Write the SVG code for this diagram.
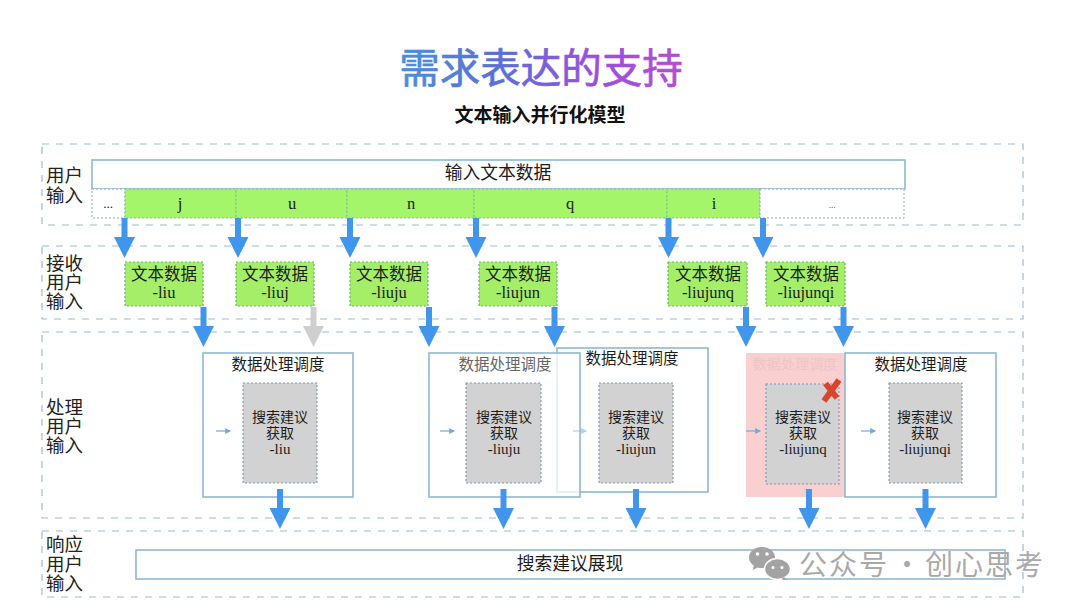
<svg xmlns="http://www.w3.org/2000/svg" width="1080" height="608" viewBox="0 0 1080 608">
<style>
text{font-family:"Liberation Serif","Noto Sans CJK SC",serif;fill:#1c1c1c;text-anchor:middle}
.cjk{font-family:"Noto Sans CJK SC","Noto Sans",sans-serif}
.side{font-size:18.500px;text-anchor:start;fill:#222}
.band{fill:none;stroke:#9dbcc9;stroke-width:1.2;stroke-dasharray:7 7}
.bar{fill:#fff;stroke:#8fb9d2;stroke-width:1.6}
.cell{fill:#a5f56a;stroke:#7fc08e;stroke-width:1;stroke-dasharray:2 2}
.empty{fill:#fff;stroke:#8fa9b5;stroke-width:1;stroke-dasharray:2 2}
.data{fill:#a5ee68;stroke:#6fae7a;stroke-width:1.2;stroke-dasharray:2 2}
.dt{font-size:16.500px}
.lt{font-size:16.500px}
.box{fill:#fff;stroke:#8db8d3;stroke-width:1.6}
.grey{fill:#d2d2d2;stroke:#7f93b5;stroke-width:1.1;stroke-dasharray:2 2}
.title{font-size:15.500px}
.gt{font-size:14px}
.gl{font-size:15px}
.blue{fill:#4096ec}
.small{stroke:#76a9d8;stroke-width:1.2;fill:none;marker-end:url(#tiny)}
</style>
<defs>
<linearGradient id="tg" gradientUnits="userSpaceOnUse" x1="400" y1="0" x2="682" y2="0">
<stop offset="0" stop-color="#4a90d6"/><stop offset="0.35" stop-color="#5b6fd8"/><stop offset="0.7" stop-color="#9a4fdc"/><stop offset="1" stop-color="#b24fd0"/>
</linearGradient>
<path id="arrow" d="M-3 0H3V19H10.500L0 40L-10.500 19H-3Z"/>
<marker id="tiny" markerWidth="6" markerHeight="6" refX="4" refY="2.500" orient="auto"><path d="M0 0L5 2.500L0 5Z" fill="#76a9d8"/></marker>
</defs>
<rect width="1080" height="608" fill="#fff"/>
<text id="main-title" class="cjk" x="541" y="83" font-size="40.500" style="fill:url(#tg);stroke:url(#tg);stroke-width:0.700">需求表达的支持</text>
<text id="subtitle" class="cjk" x="540" y="122" font-size="19" font-weight="700" style="fill:#111">文本输入并行化模型</text>

<g id="bands">
<rect class="band" x="42" y="144" width="981" height="81"/>
<rect class="band" x="42" y="246" width="981" height="73"/>
<rect class="band" x="42" y="332" width="981" height="186"/>
<rect class="band" x="42" y="531" width="981" height="66"/>
</g>
<g id="side-labels">
<text class="cjk side" x="46"><tspan x="46" y="182">用户</tspan><tspan x="46" y="202">输入</tspan></text>
<text class="cjk side" x="46"><tspan x="46" y="270">接收</tspan><tspan x="46" y="289">用户</tspan><tspan x="46" y="308">输入</tspan></text>
<text class="cjk side" x="46"><tspan x="46" y="414">处理</tspan><tspan x="46" y="433">用户</tspan><tspan x="46" y="452">输入</tspan></text>
<text class="cjk side" x="46"><tspan x="46" y="551">响应</tspan><tspan x="46" y="571">用户</tspan><tspan x="46" y="590">输入</tspan></text>
</g>

<g id="input-bar"><rect class="bar" x="92" y="160" width="813" height="29"/><text class="cjk" x="498" y="179" font-size="17.800">输入文本数据</text></g>
<g id="char-prefix"><rect class="empty" x="92" y="189" width="33" height="29"/><text x="108" y="208" font-size="13">...</text></g>
<g id="char-j"><rect class="cell" x="125" y="189" width="111" height="29"/><text class="lt" x="180" y="209">j</text></g>
<g id="char-u"><rect class="cell" x="236" y="189" width="111" height="29"/><text class="lt" x="292" y="209">u</text></g>
<g id="char-n"><rect class="cell" x="347" y="189" width="127" height="29"/><text class="lt" x="411" y="209">n</text></g>
<g id="char-q"><rect class="cell" x="474" y="189" width="193" height="29"/><text class="lt" x="570" y="209">q</text></g>
<g id="char-i"><rect class="cell" x="667" y="189" width="93" height="29"/><text class="lt" x="714" y="209">i</text></g>
<g id="char-suffix"><rect class="empty" x="760" y="189" width="144" height="29"/><text x="832" y="208" font-size="9">...</text></g>

<g id="data-liu"><rect class="data" x="125" y="262" width="78" height="44"/><text class="dt" x="164" y="280">文本数据</text><text class="lt" x="164" y="298">-liu</text></g>
<g id="data-liuj"><rect class="data" x="236" y="262" width="78" height="44"/><text class="dt" x="275" y="280">文本数据</text><text class="lt" x="275" y="298">-liuj</text></g>
<g id="data-liuju"><rect class="data" x="350" y="262" width="78" height="44"/><text class="dt" x="389" y="280">文本数据</text><text class="lt" x="389" y="298">-liuju</text></g>
<g id="data-liujun"><rect class="data" x="479" y="262" width="78" height="44"/><text class="dt" x="518" y="280">文本数据</text><text class="lt" x="518" y="298">-liujun</text></g>
<g id="data-liujunq"><rect class="data" x="668" y="262" width="79" height="44"/><text class="dt" x="708" y="280">文本数据</text><text class="lt" x="708" y="298">-liujunq</text></g>
<g id="data-liujunqi"><rect class="data" x="766" y="262" width="79" height="44"/><text class="dt" x="806" y="280">文本数据</text><text class="lt" x="806" y="298">-liujunqi</text></g>

<g id="proc-liu">
<rect class="box" x="203" y="353" width="150" height="144"/>
<text class="cjk title" x="278" y="370">数据处理调度</text>
<rect class="grey" x="243" y="383" width="74" height="100"/>
<text class="cjk gt" x="280" y="422">搜索建议</text><text class="cjk gt" x="280" y="438">获取</text><text class="gl" x="280" y="454">-liu</text>
</g>
<g id="proc-liujun">
<rect class="box" x="557" y="348" width="151" height="144"/>
<text class="cjk title" x="632" y="364">数据处理调度</text>
<rect class="grey" x="599" y="383" width="74" height="100"/>
<text class="cjk gt" x="636" y="422">搜索建议</text><text class="cjk gt" x="636" y="438">获取</text><text class="gl" x="636" y="454">-liujun</text>
</g>
<g id="proc-liuju">
<rect x="429" y="353" width="151" height="144" fill="#fff" fill-opacity="0.75" stroke="#8db8d3" stroke-width="1.600"/>
<text class="cjk title" x="505" y="370" style="fill:#666">数据处理调度</text>
<rect class="grey" x="466" y="383" width="75" height="100"/>
<text class="cjk gt" x="504" y="422">搜索建议</text><text class="cjk gt" x="504" y="438">获取</text><text class="gl" x="504" y="454">-liuju</text>
</g>
<g id="proc-liujunq">
<rect x="746" y="353" width="99" height="144" fill="#f9cfcf"/>
<text class="cjk" x="795" y="369" font-size="14.200" style="fill:#ecc6c6">数据处理调度</text>
<rect class="grey" x="766" y="384" width="73" height="100"/>
<text class="cjk gt" x="803" y="422">搜索建议</text><text class="cjk gt" x="803" y="438">获取</text><text class="gl" x="803" y="454">-liujunq</text>
<path d="M824 401L839 380M825.500 383.500L837 398" stroke="#d9452c" stroke-width="6" fill="none"/>
</g>
<g id="proc-liujunqi">
<rect class="box" x="845" y="353" width="151" height="144"/>
<text class="cjk title" x="921" y="370">数据处理调度</text>
<rect class="grey" x="889" y="383" width="73" height="100"/>
<text class="cjk gt" x="925" y="422">搜索建议</text><text class="cjk gt" x="925" y="438">获取</text><text class="gl" x="925" y="454">-liujunqi</text>
</g>

<g id="output-bar"><rect class="bar" x="136" y="550" width="869" height="29"/><text class="cjk" x="570" y="570" font-size="17.800">搜索建议展现</text></g>

<g id="connectors">
<use class="blue" href="#arrow" x="124.500" y="218"/>
<use class="blue" href="#arrow" x="238" y="218"/>
<use class="blue" href="#arrow" x="350" y="218"/>
<use class="blue" href="#arrow" x="476" y="218"/>
<use class="blue" href="#arrow" x="668.500" y="218"/>
<use class="blue" href="#arrow" x="763" y="218"/>
<use class="blue" href="#arrow" x="203.500" y="307"/>
<use href="#arrow" x="313.500" y="307" fill="#cfcfcf"/>
<use class="blue" href="#arrow" x="429" y="307"/>
<use class="blue" href="#arrow" x="554.500" y="307"/>
<use class="blue" href="#arrow" x="746" y="307"/>
<use class="blue" href="#arrow" x="843.500" y="307"/>
<use class="blue" href="#arrow" x="280" y="489"/>
<use class="blue" href="#arrow" x="503.500" y="489"/>
<use class="blue" href="#arrow" x="636" y="489"/>
<use class="blue" href="#arrow" x="809" y="489"/>
<use class="blue" href="#arrow" x="925.500" y="489"/>
<path class="small" d="M216 431H230"/>
<path class="small" d="M440 431H454"/>
<path class="small" d="M573 431H586" opacity="0.55"/>
<path class="small" d="M746 431H760"/>
<path class="small" d="M861 431H875"/>
</g>

<g id="watermark">
<path d="M762 547c7 0 13 4.500 13 10.500c0 6-6 10.500-13 10.500c-1.500 0-3-.2-4.300-.6l-5 2.600l1.200-4.300c-3-2-4.900-4.900-4.900-8.200c0-6 6-10.500 13-10.500z" fill="#a3a3a3"/>
<ellipse cx="777.500" cy="569" rx="13" ry="10.500" fill="#a3a3a3" stroke="#fff" stroke-width="1.500"/>
<path d="M784 577l3.500 3.500l-6-1.500z" fill="#a3a3a3"/>
<circle cx="757.500" cy="554" r="1.800" fill="#fff"/><circle cx="767" cy="554" r="1.800" fill="#fff"/>
<circle cx="773" cy="567.500" r="1.500" fill="#fff"/><circle cx="782" cy="567.500" r="1.500" fill="#fff"/>
<text class="cjk" x="799" y="575" font-size="28" letter-spacing="2" style="fill:#a9a9a9;text-anchor:start"><tspan x="799">公众号</tspan><tspan x="893">·</tspan><tspan x="925">创心思考</tspan></text>
</g>
</svg>
